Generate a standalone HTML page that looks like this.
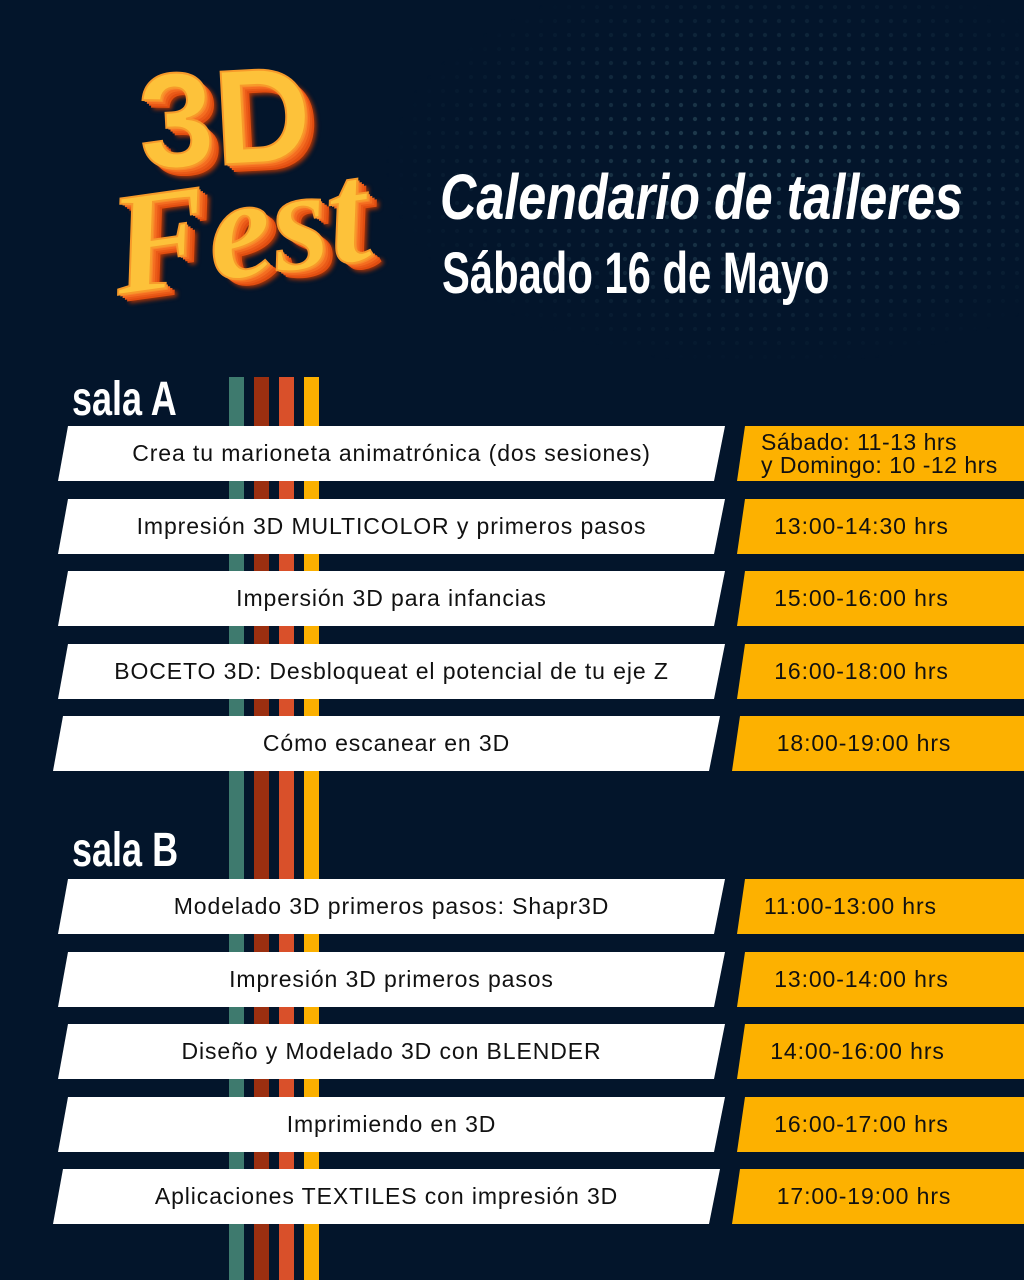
<!DOCTYPE html>
<html><head><meta charset="utf-8"><style>
body{margin:0;}
#c{position:relative;width:1024px;height:1280px;background:#03152b;overflow:hidden;font-family:"Liberation Sans",sans-serif;}
.dots{position:absolute;left:380px;top:0;width:644px;height:370px;background-image:radial-gradient(circle,rgba(90,140,150,0.45) 1.8px,transparent 2.4px);background-size:14px 14px;-webkit-mask-image:radial-gradient(ellipse at 60% 45%,rgba(0,0,0,.9),transparent 70%);mask-image:radial-gradient(ellipse at 60% 45%,rgba(0,0,0,.9),transparent 70%);}
.st{position:absolute;top:377px;bottom:0;width:15px;}
.w{position:absolute;height:55px;background:#fff;clip-path:polygon(10px 0,100% 0,calc(100% - 11px) 100%,0 100%);color:#111;font-size:23px;display:flex;align-items:center;justify-content:center;letter-spacing:0.9px;}
.o{position:absolute;height:55px;left:737px;right:0;background:#fdb100;clip-path:polygon(8px 0,100% 0,100% 100%,0 100%);color:#111;font-size:23px;display:flex;align-items:center;justify-content:center;letter-spacing:0.9px;padding-right:38px;box-sizing:border-box;}
.h{position:absolute;color:#fff;font-weight:bold;transform-origin:left top;white-space:nowrap;}
.logo{position:absolute;font-weight:bold;color:#fdc23a;text-shadow:2px 2px 0 #f8852a,4px 4px 0 #f46d20,6px 6px 0 #ea5a18,8px 8px 0 #e04d10,10px 10px 4px #a83408;-webkit-text-stroke:2px #f79a2a;white-space:nowrap;transform-origin:left top;}
</style></head><body><div id="c">
<div class="dots"></div>
<div class="logo" style="left:135px;top:45px;font-size:135px;transform:scaleX(1.0) rotate(-3deg);font-family:'Liberation Sans',sans-serif;">3D</div>
<div class="logo" style="left:100px;top:165px;font-size:145px;font-style:italic;transform:rotate(-8deg);font-family:'Liberation Serif',serif;">Fest</div>
<div class="h" style="left:440px;top:160px;font-size:64px;font-style:italic;transform:scaleX(0.786);">Calendario de talleres</div>
<div class="h" style="left:442px;top:240px;font-size:58px;transform:scaleX(0.72);">Sábado 16 de Mayo</div>
<div class="st" style="left:229px;background:#3e7a6e"></div>
<div class="st" style="left:254px;background:#9b2f10"></div>
<div class="st" style="left:279px;background:#d9502a"></div>
<div class="st" style="left:304px;background:#fbb000"></div>
<div class="h" style="left:72px;top:372px;font-size:48px;transform:scaleX(0.75);">sala A</div>
<div class="h" style="left:72px;top:823px;font-size:48px;transform:scaleX(0.75);">sala B</div>

<div class="w" style="left:58px;width:667px;top:426px">Crea tu marioneta animatrónica (dos sesiones)</div>
<div class="o" style="top:426px;line-height:23px;display:block;padding:5px 0 0 24px;letter-spacing:0.5px">Sábado: 11-13 hrs<br>y Domingo: 10 -12 hrs</div>
<div class="w" style="left:58px;width:667px;top:499px">Impresión 3D MULTICOLOR y primeros pasos</div>
<div class="o" style="top:499px">13:00-14:30 hrs</div>
<div class="w" style="left:58px;width:667px;top:571px">Impersión 3D para infancias</div>
<div class="o" style="top:571px">15:00-16:00 hrs</div>
<div class="w" style="left:58px;width:667px;top:644px">BOCETO 3D: Desbloqueat el potencial de tu eje Z</div>
<div class="o" style="top:644px">16:00-18:00 hrs</div>
<div class="w" style="left:53px;width:667px;top:716px">Cómo escanear en 3D</div>
<div class="o" style="top:716px;left:732px;padding-right:28px">18:00-19:00 hrs</div>

<div class="w" style="left:58px;width:667px;top:879px">Modelado 3D primeros pasos: Shapr3D</div>
<div class="o" style="top:879px;padding-right:60px">11:00-13:00 hrs</div>
<div class="w" style="left:58px;width:667px;top:952px">Impresión 3D primeros pasos</div>
<div class="o" style="top:952px">13:00-14:00 hrs</div>
<div class="w" style="left:58px;width:667px;top:1024px">Diseño y Modelado 3D con BLENDER</div>
<div class="o" style="top:1024px;padding-right:46px">14:00-16:00 hrs</div>
<div class="w" style="left:58px;width:667px;top:1097px">Imprimiendo en 3D</div>
<div class="o" style="top:1097px">16:00-17:00 hrs</div>
<div class="w" style="left:53px;width:667px;top:1169px">Aplicaciones TEXTILES con impresión 3D</div>
<div class="o" style="top:1169px;left:732px;padding-right:28px">17:00-19:00 hrs</div>
</div></body></html>
